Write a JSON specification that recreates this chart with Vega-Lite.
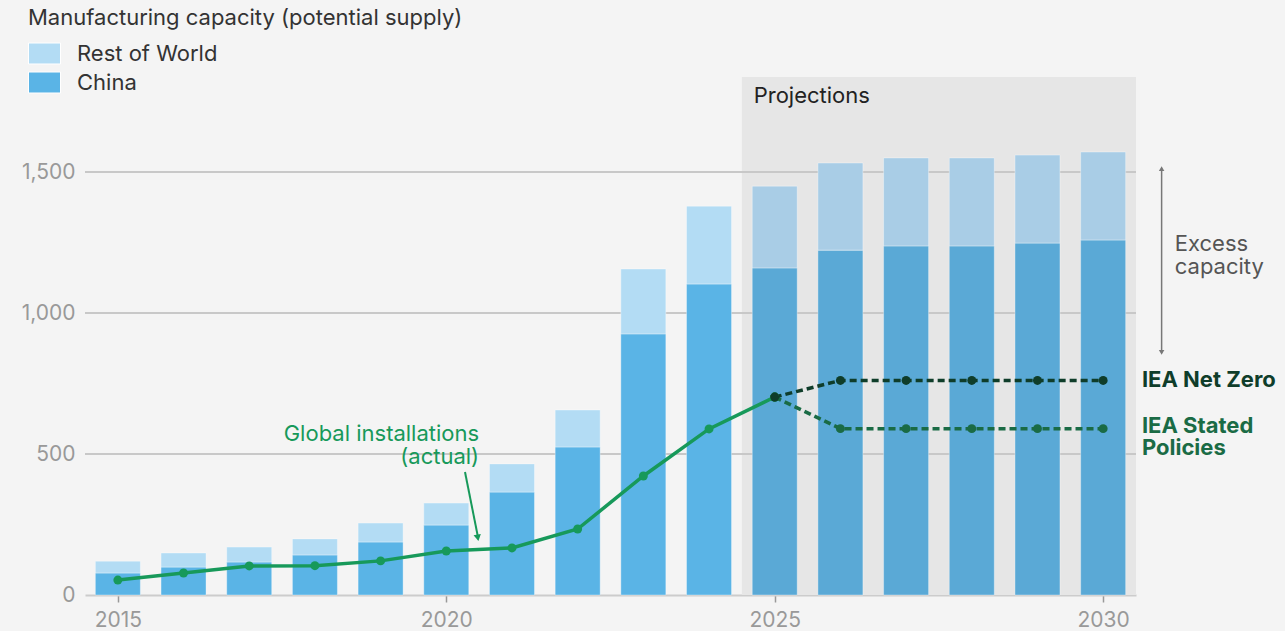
{
  "$schema": "https://vega.github.io/schema/vega-lite/v6.json",
  "width": 1051,
  "height": 518,
  "autosize": "none",
  "padding": {"left": 85, "top": 77, "right": 149, "bottom": 36},
  "background": "#f4f4f4",
  "config": {
    "view": {"stroke": null},
    "font": "Inter",
    "text": {"font": "Inter", "fontSize": 22},
    "legend": {"labelFont": "Inter", "titleFont": "Inter"},
    "axis": {"labelFont": "Inter"}
  },
  "datasets": {
    "capacity": [
      {"year": 2015, "region": "China", "value": 78}, {"year": 2015, "region": "Rest of World", "value": 42},
      {"year": 2016, "region": "China", "value": 99}, {"year": 2016, "region": "Rest of World", "value": 50},
      {"year": 2017, "region": "China", "value": 117}, {"year": 2017, "region": "Rest of World", "value": 53},
      {"year": 2018, "region": "China", "value": 142}, {"year": 2018, "region": "Rest of World", "value": 57},
      {"year": 2019, "region": "China", "value": 188}, {"year": 2019, "region": "Rest of World", "value": 67},
      {"year": 2020, "region": "China", "value": 248}, {"year": 2020, "region": "Rest of World", "value": 78},
      {"year": 2021, "region": "China", "value": 365}, {"year": 2021, "region": "Rest of World", "value": 100},
      {"year": 2022, "region": "China", "value": 525}, {"year": 2022, "region": "Rest of World", "value": 131},
      {"year": 2023, "region": "China", "value": 926}, {"year": 2023, "region": "Rest of World", "value": 230},
      {"year": 2024, "region": "China", "value": 1103}, {"year": 2024, "region": "Rest of World", "value": 276},
      {"year": 2025, "region": "China", "value": 1160}, {"year": 2025, "region": "Rest of World", "value": 290},
      {"year": 2026, "region": "China", "value": 1223}, {"year": 2026, "region": "Rest of World", "value": 309},
      {"year": 2027, "region": "China", "value": 1238}, {"year": 2027, "region": "Rest of World", "value": 312},
      {"year": 2028, "region": "China", "value": 1238}, {"year": 2028, "region": "Rest of World", "value": 312},
      {"year": 2029, "region": "China", "value": 1248}, {"year": 2029, "region": "Rest of World", "value": 312},
      {"year": 2030, "region": "China", "value": 1259}, {"year": 2030, "region": "Rest of World", "value": 312}
    ],
    "installs": [
      {"year": 2015, "series": "actual", "value": 53},
      {"year": 2016, "series": "actual", "value": 78},
      {"year": 2017, "series": "actual", "value": 103},
      {"year": 2018, "series": "actual", "value": 104},
      {"year": 2019, "series": "actual", "value": 121},
      {"year": 2020, "series": "actual", "value": 156},
      {"year": 2021, "series": "actual", "value": 167},
      {"year": 2022, "series": "actual", "value": 234},
      {"year": 2023, "series": "actual", "value": 422},
      {"year": 2024, "series": "actual", "value": 589},
      {"year": 2025, "series": "actual", "value": 702},
      {"year": 2025, "series": "netzero", "value": 702},
      {"year": 2026, "series": "netzero", "value": 761},
      {"year": 2027, "series": "netzero", "value": 761},
      {"year": 2028, "series": "netzero", "value": 761},
      {"year": 2029, "series": "netzero", "value": 761},
      {"year": 2030, "series": "netzero", "value": 761},
      {"year": 2025, "series": "stated", "value": 702},
      {"year": 2026, "series": "stated", "value": 590},
      {"year": 2027, "series": "stated", "value": 590},
      {"year": 2028, "series": "stated", "value": 590},
      {"year": 2029, "series": "stated", "value": 590},
      {"year": 2030, "series": "stated", "value": 590}
    ]
  },
  "resolve": {"scale": {"color": "independent"}},
  "layer": [
    {
      "data": {"values": [{"start": 2024.5, "end": 2030.5, "low": 0, "high": 1837}]},
      "mark": {"type": "rect", "color": "#e6e6e6"},
      "encoding": {
        "x": {"field": "start", "type": "quantitative", "scale": {"domain": [2014.5, 2030.5], "nice": false, "zero": false, "padding": 0},
          "axis": {"values": [2015, 2020, 2025, 2030], "format": "d", "title": null, "grid": false,
            "tickSize": 7, "tickColor": "#999999", "tickWidth": 1.5, "domainColor": "#cccccc", "domainWidth": 2,
            "labelFontSize": 21, "labelColor": "#999999", "labelPadding": 7}},
        "x2": {"field": "end"},
        "y": {"field": "low", "type": "quantitative", "scale": {"domain": [0, 1837], "nice": false},
          "axis": {"values": [0, 500, 1000, 1500], "title": null, "grid": false, "domain": false, "ticks": false,
            "labelFontSize": 21, "labelColor": "#999999", "labelPadding": 10}},
        "y2": {"field": "high"}
      }
    },
    {
      "data": {"values": [{"value": 500}, {"value": 1000}, {"value": 1500}]},
      "mark": {"type": "rule", "color": "#c8c8c8", "strokeWidth": 2},
      "encoding": {"y": {"field": "value", "type": "quantitative", "scale": {"domain": [0, 1837], "nice": false}}}
    },
    {
      "data": {"name": "capacity"},
      "transform": [{"filter": "datum.year < 2025"}],
      "mark": {"type": "bar", "width": 45, "stroke": "#ffffff", "strokeWidth": 1, "strokeOpacity": 0.35},
      "encoding": {
        "x": {"field": "year", "type": "quantitative", "scale": {"domain": [2014.5, 2030.5], "nice": false, "zero": false, "padding": 0}},
        "y": {"field": "value", "type": "quantitative", "stack": "zero", "scale": {"domain": [0, 1837], "nice": false}},
        "order": {"field": "region", "sort": "ascending"},
        "color": {"field": "region", "type": "nominal",
          "scale": {"domain": ["Rest of World", "China"], "range": ["#b3dcf4", "#5ab4e6"]},
          "legend": {"title": "Manufacturing capacity (potential supply)", "orient": "none", "legendX": -57, "legendY": -69,
            "titleFontSize": 22, "titleFontWeight": "normal", "titleColor": "#333333", "titlePadding": 7, "titleLimit": 800,
            "labelFontSize": 22, "labelColor": "#333333", "labelOffset": 16,
            "symbolType": "M-1,-0.656L1,-0.656L1,0.656L-1,0.656Z", "symbolSize": 1024, "symbolStrokeWidth": 1,
            "symbolStrokeColor": "#ffffff", "symbolOpacity": 1, "rowPadding": 0}}
      }
    },
    {
      "data": {"name": "capacity"},
      "transform": [{"filter": "datum.year >= 2025"}],
      "mark": {"type": "bar", "width": 45, "stroke": "#ffffff", "strokeWidth": 1, "strokeOpacity": 0.35},
      "encoding": {
        "x": {"field": "year", "type": "quantitative", "scale": {"domain": [2014.5, 2030.5], "nice": false, "zero": false, "padding": 0}},
        "y": {"field": "value", "type": "quantitative", "stack": "zero", "scale": {"domain": [0, 1837], "nice": false}},
        "order": {"field": "region", "sort": "ascending"},
        "color": {"field": "region", "type": "nominal",
          "scale": {"domain": ["Rest of World", "China"], "range": ["#a9cde6", "#5aa9d6"]},
          "legend": null}
      }
    },
    {
      "data": {"name": "installs"},
      "transform": [{"filter": "datum.series === 'stated'"}],
      "mark": {"type": "line", "color": "#1a6b45", "strokeWidth": 3.5, "strokeDash": [7, 4],
        "point": {"filled": true, "size": 80, "color": "#1a6b45"}},
      "encoding": {"x": {"field": "year", "type": "quantitative", "scale": {"domain": [2014.5, 2030.5], "nice": false, "zero": false, "padding": 0}},
        "y": {"field": "value", "type": "quantitative", "scale": {"domain": [0, 1837], "nice": false}}}
    },
    {
      "data": {"name": "installs"},
      "transform": [{"filter": "datum.series === 'netzero'"}],
      "mark": {"type": "line", "color": "#0f3d2a", "strokeWidth": 3.5, "strokeDash": [7, 4],
        "point": {"filled": true, "size": 80, "color": "#0f3d2a"}},
      "encoding": {"x": {"field": "year", "type": "quantitative", "scale": {"domain": [2014.5, 2030.5], "nice": false, "zero": false, "padding": 0}},
        "y": {"field": "value", "type": "quantitative", "scale": {"domain": [0, 1837], "nice": false}}}
    },
    {
      "data": {"name": "installs"},
      "transform": [{"filter": "datum.series === 'actual'"}],
      "mark": {"type": "line", "color": "#17995a", "strokeWidth": 3.5,
        "point": {"filled": true, "size": 80, "color": "#17995a"}},
      "encoding": {"x": {"field": "year", "type": "quantitative", "scale": {"domain": [2014.5, 2030.5], "nice": false, "zero": false, "padding": 0}},
        "y": {"field": "value", "type": "quantitative", "scale": {"domain": [0, 1837], "nice": false}}}
    },
    {
      "data": {"values": [{"year": 2025, "value": 702}]},
      "mark": {"type": "point", "filled": true, "size": 80, "color": "#0f3d2a", "opacity": 1},
      "encoding": {"x": {"field": "year", "type": "quantitative", "scale": {"domain": [2014.5, 2030.5], "nice": false, "zero": false, "padding": 0}},
        "y": {"field": "value", "type": "quantitative", "scale": {"domain": [0, 1837], "nice": false}}}
    },
    {
      "data": {"values": [{"x1": 2020.285, "y1": 436, "x2": 2020.483, "y2": 205}]},
      "mark": {"type": "rule", "color": "#17995a", "strokeWidth": 2},
      "encoding": {"x": {"field": "x1", "type": "quantitative", "scale": {"domain": [2014.5, 2030.5], "nice": false, "zero": false, "padding": 0}},
        "y": {"field": "y1", "type": "quantitative", "scale": {"domain": [0, 1837], "nice": false}},
        "x2": {"field": "x2"}, "y2": {"field": "y2"}}
    },
    {
      "data": {"values": [{"year": 2020.48, "value": 203}]},
      "mark": {"type": "point", "shape": "triangle-down", "filled": true, "size": 55, "color": "#17995a", "angle": 349, "opacity": 1},
      "encoding": {"x": {"field": "year", "type": "quantitative", "scale": {"domain": [2014.5, 2030.5], "nice": false, "zero": false, "padding": 0}},
        "y": {"field": "value", "type": "quantitative", "scale": {"domain": [0, 1837], "nice": false}}}
    },
    {
      "data": {"values": [{"year": 2030.89, "low": 860, "high": 1512}]},
      "mark": {"type": "rule", "color": "#777777", "strokeWidth": 1.5},
      "encoding": {"x": {"field": "year", "type": "quantitative", "scale": {"domain": [2014.5, 2030.5], "nice": false, "zero": false, "padding": 0}},
        "y": {"field": "low", "type": "quantitative", "scale": {"domain": [0, 1837], "nice": false}}, "y2": {"field": "high"}}
    },
    {
      "data": {"values": [{"year": 2030.89, "value": 1512}]},
      "mark": {"type": "point", "shape": "triangle-up", "filled": true, "size": 30, "color": "#777777", "opacity": 1},
      "encoding": {"x": {"field": "year", "type": "quantitative", "scale": {"domain": [2014.5, 2030.5], "nice": false, "zero": false, "padding": 0}},
        "y": {"field": "value", "type": "quantitative", "scale": {"domain": [0, 1837], "nice": false}}}
    },
    {
      "data": {"values": [{"year": 2030.89, "value": 860}]},
      "mark": {"type": "point", "shape": "triangle-down", "filled": true, "size": 30, "color": "#777777", "opacity": 1},
      "encoding": {"x": {"field": "year", "type": "quantitative", "scale": {"domain": [2014.5, 2030.5], "nice": false, "zero": false, "padding": 0}},
        "y": {"field": "value", "type": "quantitative", "scale": {"domain": [0, 1837], "nice": false}}}
    },
    {
      "data": {"values": [{"year": 2024.68, "value": 1744, "label": "Projections"}]},
      "mark": {"type": "text", "align": "left", "baseline": "alphabetic", "color": "#222222", "fontSize": 22},
      "encoding": {"x": {"field": "year", "type": "quantitative", "scale": {"domain": [2014.5, 2030.5], "nice": false, "zero": false, "padding": 0}},
        "y": {"field": "value", "type": "quantitative", "scale": {"domain": [0, 1837], "nice": false}}, "text": {"field": "label"}}
    },
    {
      "data": {"values": [{"year": 2031.09, "value": 1221, "label": "Excess\ncapacity"}]},
      "mark": {"type": "text", "align": "left", "baseline": "alphabetic", "color": "#555555", "fontSize": 22, "lineBreak": "\n", "lineHeight": 23},
      "encoding": {"x": {"field": "year", "type": "quantitative", "scale": {"domain": [2014.5, 2030.5], "nice": false, "zero": false, "padding": 0}},
        "y": {"field": "value", "type": "quantitative", "scale": {"domain": [0, 1837], "nice": false}}, "text": {"field": "label"}}
    },
    {
      "data": {"values": [{"year": 2030.59, "value": 739, "label": "IEA Net Zero"}]},
      "mark": {"type": "text", "align": "left", "baseline": "alphabetic", "color": "#0f3d2a", "fontSize": 22, "fontWeight": "bold"},
      "encoding": {"x": {"field": "year", "type": "quantitative", "scale": {"domain": [2014.5, 2030.5], "nice": false, "zero": false, "padding": 0}},
        "y": {"field": "value", "type": "quantitative", "scale": {"domain": [0, 1837], "nice": false}}, "text": {"field": "label"}}
    },
    {
      "data": {"values": [{"year": 2030.59, "value": 574, "label": "IEA Stated\nPolicies"}]},
      "mark": {"type": "text", "align": "left", "baseline": "alphabetic", "color": "#1a6b45", "fontSize": 22, "fontWeight": "bold", "lineBreak": "\n", "lineHeight": 22},
      "encoding": {"x": {"field": "year", "type": "quantitative", "scale": {"domain": [2014.5, 2030.5], "nice": false, "zero": false, "padding": 0}},
        "y": {"field": "value", "type": "quantitative", "scale": {"domain": [0, 1837], "nice": false}}, "text": {"field": "label"}}
    },
    {
      "data": {"values": [{"year": 2020.5, "value": 546, "label": "Global installations\n(actual)"}]},
      "mark": {"type": "text", "align": "right", "baseline": "alphabetic", "color": "#17995a", "fontSize": 22, "lineBreak": "\n", "lineHeight": 23},
      "encoding": {"x": {"field": "year", "type": "quantitative", "scale": {"domain": [2014.5, 2030.5], "nice": false, "zero": false, "padding": 0}},
        "y": {"field": "value", "type": "quantitative", "scale": {"domain": [0, 1837], "nice": false}}, "text": {"field": "label"}}
    }
  ]
}
